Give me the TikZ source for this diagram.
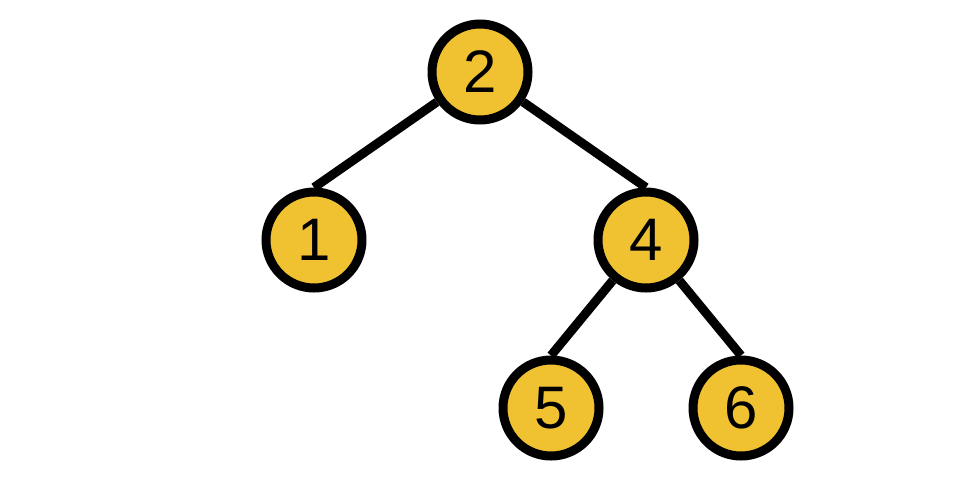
\documentclass[tikz,border=0pt]{standalone}
\usepackage{fontspec}
\setmainfont{Liberation Sans}
\definecolor{nodefill}{HTML}{F0C232}
\begin{document}
\begin{tikzpicture}[x=1pt,y=-1pt,
  tnode/.style={circle,draw=black,line width=9pt,fill=nodefill,minimum size=96pt,inner sep=0pt,font=\fontsize{60}{60}\selectfont},
  edge/.style={line width=9pt}]
\useasboundingbox (0,0) rectangle (960,480);
\node[tnode] (n2) at (480,72) {2};
\node[tnode] (n1) at (314,240) {1};
\node[tnode] (n4) at (646,240) {4};
\node[tnode] (n5) at (551,408) {5};
\node[tnode] (n6) at (741,408) {6};
\draw[edge] (n2) -- (n1.north);
\draw[edge] (n2) -- (n4.north);
\draw[edge] (n4) -- (n5.north);
\draw[edge] (n4) -- (n6.north);
\end{tikzpicture}
\end{document}
